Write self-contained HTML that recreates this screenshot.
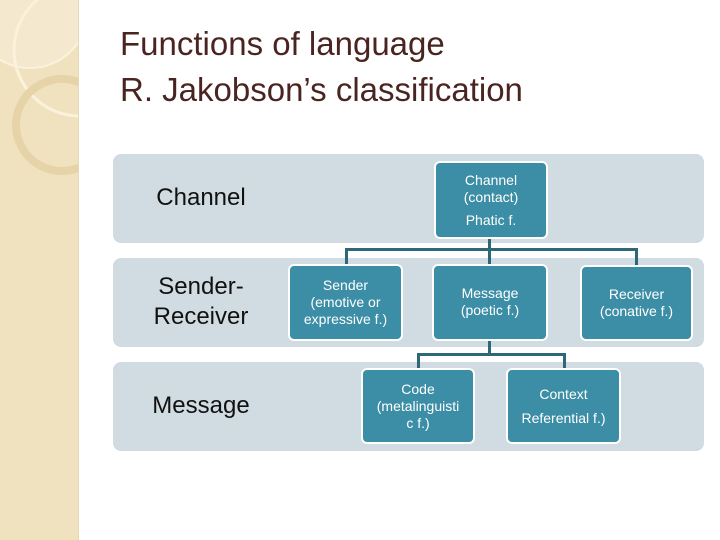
<!DOCTYPE html>
<html><head><style>
body{margin:0;width:720px;height:540px;background:#fff;position:relative;overflow:hidden;font-family:"Liberation Sans",sans-serif}
.strip{position:absolute;left:0;top:0;width:78px;height:540px;background:#f1e2bf;border-right:1px solid #e8d9b5}
.t{position:absolute;left:120px;font-size:33px;color:#4a2420;line-height:1}
.band{position:absolute;left:113px;width:591px;height:89px;background:#d0dce1;border-radius:8px}
.lab{position:absolute;left:113px;width:176px;text-align:center;font-size:24px;color:#111;line-height:30px}
.n{position:absolute;background:#3b8ea5;border:2px solid #fff;border-radius:6px;box-sizing:border-box;color:#fff;font-size:14px;text-align:center;display:flex;flex-direction:column;justify-content:center;line-height:17px}
.l{position:absolute;background:#2e6878}
</style></head><body>
<div class="strip"><svg width="78" height="540" style="position:absolute;left:0;top:0">
<circle cx="30" cy="10" r="58" fill="rgba(255,255,255,0.25)" stroke="#fbf2dc" stroke-width="2"/>
<circle cx="80" cy="50" r="66" fill="none" stroke="#fbf2dc" stroke-width="3"/>
<circle cx="62" cy="125" r="46" fill="none" stroke="#e6d3a8" stroke-width="8"/>
</svg></div>
<div class="t" style="top:27px">Functions of language</div>
<div class="t" style="top:73px">R. Jakobson’s classification</div>
<div class="band" style="top:154px"></div>
<div class="band" style="top:258px"></div>
<div class="band" style="top:362px"></div>
<div class="lab" style="top:183px">Channel</div>
<div class="lab" style="top:272px">Sender-<br>Receiver</div>
<div class="lab" style="top:391px">Message</div>
<div class="l" style="left:488px;top:238px;width:3px;height:28px"></div>
<div class="l" style="left:345px;top:248px;width:293px;height:3px"></div>
<div class="l" style="left:345px;top:248px;width:3px;height:18px"></div>
<div class="l" style="left:635px;top:248px;width:3px;height:18px"></div>
<div class="l" style="left:488px;top:340px;width:3px;height:15px"></div>
<div class="l" style="left:417px;top:353px;width:149px;height:3px"></div>
<div class="l" style="left:417px;top:353px;width:3px;height:17px"></div>
<div class="l" style="left:563px;top:353px;width:3px;height:17px"></div>
<div class="n" style="left:434px;top:161px;width:114px;height:78px"><div>Channel<br>(contact)</div><div style="margin-top:6px">Phatic f.</div></div>
<div class="n" style="left:288px;top:264px;width:115px;height:77px">Sender<br>(emotive or<br>expressive f.)</div>
<div class="n" style="left:432px;top:264px;width:116px;height:77px;justify-content:flex-start;padding-top:19px">Message<br>(poetic f.)</div>
<div class="n" style="left:580px;top:265px;width:113px;height:76px">Receiver<br>(conative f.)</div>
<div class="n" style="left:361px;top:368px;width:114px;height:76px">Code<br>(metalinguisti<br>c f.)</div>
<div class="n" style="left:506px;top:368px;width:115px;height:76px"><div>Context</div><div style="margin-top:7px">Referential f.)</div></div>
</body></html>
